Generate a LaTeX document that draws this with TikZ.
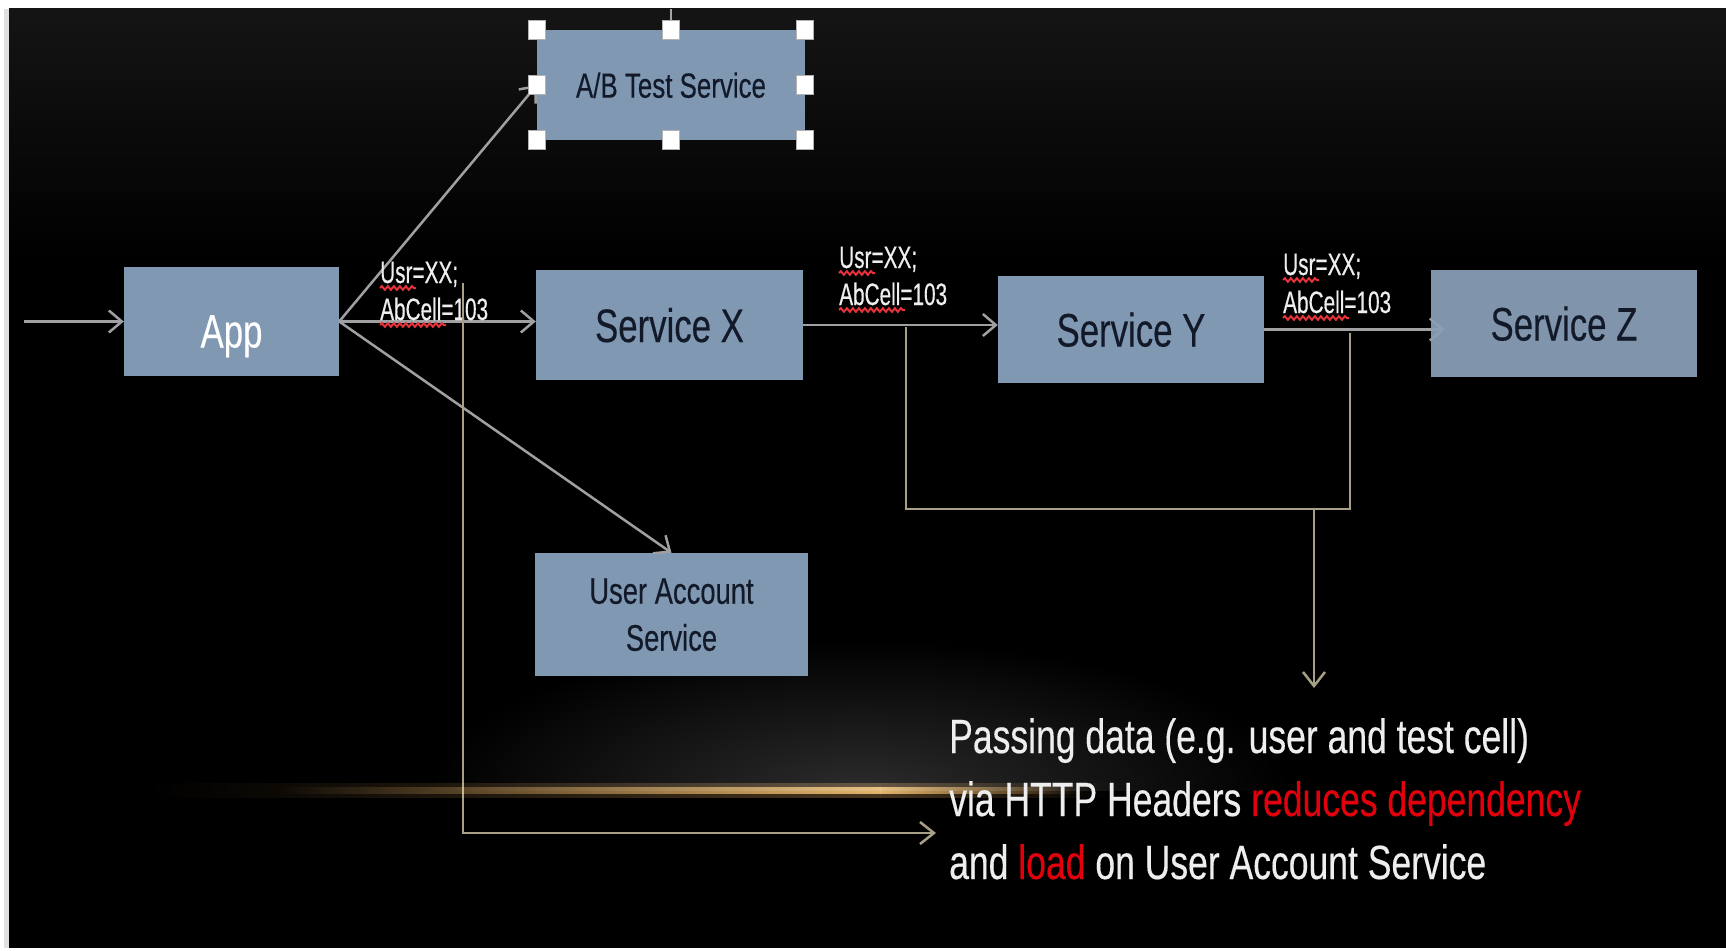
\documentclass[tikz,border=0pt]{standalone}
\usepackage{fontspec}
\newfontfamily\slidefont[FakeStretch=0.74,FakeBold=0.3]{Liberation Sans}
\newfontfamily\tagfont[FakeStretch=0.67,FakeBold=0.4]{Liberation Sans}
\usetikzlibrary{arrows.meta,decorations.pathmorphing,backgrounds}
\definecolor{boxblue}{RGB}{128,152,178}
\definecolor{boxtext}{RGB}{18,26,42}
\definecolor{wirecol}{RGB}{160,160,162}
\definecolor{tapcol}{RGB}{168,160,134}
\definecolor{glow}{RGB}{236,176,96}
\definecolor{hotred}{RGB}{226,0,12}
\definecolor{notecol}{RGB}{238,238,238}

\begin{document}
\begin{tikzpicture}[x=1pt,y=-1pt,
    svc/.style={fill=boxblue, inner sep=0pt, text=boxtext, text depth=0pt,
      font=\slidefont\fontsize{47}{50}\selectfont},
    wire/.style={draw=wirecol, line width=2.5pt, -{Straight Barb[length=13pt,width=22pt]}},
    tap/.style={draw=tapcol, line width=2.5pt},
    tapend/.style={tap, -{Straight Barb[length=14pt,width=22pt]}},
    handle/.style={fill=white, draw=gray!60, line width=0.8pt, minimum width=17pt,
      minimum height=19pt, inner sep=0pt},
    tag/.style={text=notecol, font=\tagfont\fontsize{31}{31}\selectfont, inner sep=0pt,
      anchor=base west},
    squiggle/.style={draw=hotred!80!white, line width=2pt, decorate,
      decoration={snake, amplitude=1.8pt, segment length=6pt}},
    note/.style={text=notecol, font=\slidefont\fontsize{48}{63}\selectfont, inner sep=0pt,
      anchor=base west}]
\useasboundingbox (0,0) rectangle (1726,950);

% slide backdrop
\begin{pgfonlayer}{background}
\fill[white] (0,0) rectangle (1726,950);
\fill[black!12] (4,9) rectangle (9,948);
\fill[black] (9,9) rectangle (1726,948);
\shade[top color=black!92!white, bottom color=black] (9,9) rectangle (1726,260);
\begin{scope}
  \clip (9,9) rectangle (1726,790);
  \shade[inner color=black!83!white, outer color=black] (860,790) ellipse [x radius=430, y radius=150];
\end{scope}
\end{pgfonlayer}

% services
\node[svc, text=white, text height=52pt, minimum width=215pt, minimum height=109pt]
  (app) at (231.5,321.5) {App};
\node[svc, minimum width=268pt, minimum height=110pt,
  font=\slidefont\fontsize{35}{40}\selectfont] (ab) at (671,85) {A/B Test Service};
\node[svc, minimum width=267pt, minimum height=110pt] (sx) at (669.5,325) {Service X};
\node[svc, minimum width=266pt, minimum height=107pt] (sy) at (1131,329.5) {Service Y};
\node[svc, fill=boxblue!93!white, minimum width=266pt, minimum height=107pt,
  fill opacity=0.94, text opacity=1] (sz) at (1564,323.5) {Service Z};
\node[svc, minimum width=273pt, minimum height=123pt, align=center,
  font=\slidefont\fontsize{37}{47}\selectfont] (ua) at (671.5,614.5) {User Account\\Service};

% calls
\coordinate (inlet) at (24,321.5);
\draw[wire] (inlet) -- (app.west);
\draw[wire] (app.east) -- (ab.west);
\draw[wire] (app.east) -- (app.east -| sx.west);
\draw[wire] (app.east) -- (ua.north);
\draw[wire] (sx.east) -- (sx.east -| sy.west);
\begin{pgfonlayer}{background}
\draw[wire, shorten >=-14pt] (sy.east) -- (sy.east -| sz.west);
\end{pgfonlayer}

% selection handles
\coordinate (abtop) at (671,9);
\draw[draw=gray!70, line width=1.5pt] (ab.north) -- (abtop);
\foreach \a in {north west,north,north east,west,east,south west,south,south east}
  \node[handle] at (ab.\a) {};

% header values
\node[tag] (usr1) at (380,283) {Usr=XX;};
\node[tag] (cell1) at (380,320) {AbCell=103};
\node[tag] (usr2) at (839,268) {Usr=XX;};
\node[tag] (cell2) at (839,305) {AbCell=103};
\node[tag] (usr3) at (1283,275) {Usr=XX;};
\node[tag] (cell3) at (1283,313) {AbCell=103};
\foreach \n in {1,2,3}{
  \draw[squiggle] ([yshift=-5pt]usr\n.base west) -- ++(36,0);
  \draw[squiggle] ([yshift=-5pt]cell\n.base west) -- ++(66,0);
}

% header taps
\coordinate (tapA) at (463,283);
\coordinate (noteA) at (936,833);
\draw[tapend] (tapA) |- (noteA);
\coordinate (tapX) at (906,327);
\coordinate (tapY) at (1350,333);
\coordinate (joinB) at (1314,509);
\coordinate (noteB) at (1314,688);
\draw[tap] (tapX) |- (joinB) -| (tapY);
\draw[tapend] (joinB) -- (noteB);

% horizon streak
\begin{scope}[blend mode=screen]
  \shade[left color=black, right color=glow!30!black] (150,783) rectangle (880,797);
  \shade[left color=glow!30!black, right color=black] (880,783) rectangle (1110,797);
  \shade[left color=black, right color=glow!90!black] (280,787) rectangle (880,793);
  \shade[left color=glow!90!black, right color=black] (880,787) rectangle (1080,793);
\end{scope}

% message
\node[note] (note1) at (949,753) {Passing data (e.g. user and test cell)};
\node[note] (note2) at (949,816) {via HTTP Headers \textcolor{hotred}{reduces dependency}};
\node[note] (note3) at (949,879) {and \textcolor{hotred}{load} on User Account Service};
\end{tikzpicture}
\end{document}
